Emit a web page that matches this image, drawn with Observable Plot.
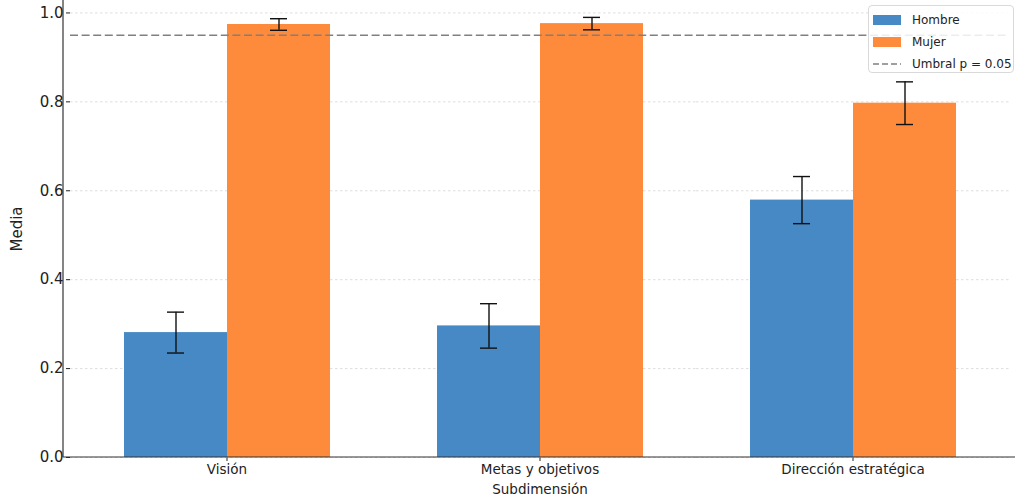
<!DOCTYPE html>
<html>
<head>
<meta charset="utf-8">
<script src="https://cdn.jsdelivr.net/npm/d3@7"></script>
<script src="https://cdn.jsdelivr.net/npm/@observablehq/plot@0.6"></script>
<style>
  html, body { margin: 0; padding: 0; background: #fff; }
  #wrap { position: relative; width: 1024px; height: 503px; font-family: "DejaVu Sans", sans-serif; }
  #legend { position: absolute; left: 868px; top: 5px; width: 146px; height: 68px; background: rgba(255,255,255,0.85);
            border: 1px solid #d9d9d9; border-radius: 4px; box-sizing: border-box; font-size: 12px; color: #222; }
  .item { position: absolute; left: 4px; height: 16px; display: flex; align-items: center; white-space: nowrap; }
  .sw { width: 28px; height: 10px; margin-right: 11px; }
  .dash { width: 28px; height: 4px; margin-right: 11px; }
  svg g[aria-label="y-axis tick label"] text, svg g[aria-label="y-axis tick label"] { font-size: 15px; }
  svg g[aria-label="y-axis label"] text, svg g[aria-label="y-axis label"] { font-size: 15px; }
</style>
</head>
<body>
<div id="wrap"></div>
<script>
const categories = ["Visión", "Metas y objetivos", "Dirección estratégica"];
const series = ["Hombre", "Mujer"];
const hombre = [0.281, 0.296, 0.579];
const mujer = [0.974, 0.976, 0.797];
const hombreErr = [0.046, 0.050, 0.053];
const mujerErr = [0.013, 0.014, 0.048];
const threshold = 0.95;
const thresholdLabel = "Umbral p = 0.05";
const yTicks = [0, 0.2, 0.4, 0.6, 0.8, 1.0];
const colors = ["#4689c5", "#fd8b3b"];

const data = [];
categories.forEach((c, i) => {
  data.push({cat: c, sex: series[0], v: hombre[i], e: hombreErr[i]});
  data.push({cat: c, sex: series[1], v: mujer[i], e: mujerErr[i]});
});

const W = 1024, H = 503, mL = 63, mR = 9, mT = 0, mB = 46;

const plot = Plot.plot({
  width: W, height: H,
  marginLeft: mL, marginRight: mR, marginTop: mT, marginBottom: mB,
  style: {fontFamily: "DejaVu Sans, sans-serif", fontSize: "13.5px", color: "#222", background: "#fff"},
  fx: {domain: categories, paddingInner: 0, paddingOuter: 0.02, axis: "bottom", tickSize: 4, tickPadding: 3,
       label: "Subdimensión", labelAnchor: "center", labelOffset: 36},
  x: {domain: series, paddingInner: 0, paddingOuter: 0.51, axis: null},
  y: {domain: [0, 1.028], ticks: yTicks, tickFormat: d3.format(".1f"), tickSize: 4, tickPadding: 3,
      label: "Media", labelAnchor: "center", labelOffset: 59, labelArrow: "none"},
  color: {domain: series, range: colors},
  marks: [
    Plot.ruleY(yTicks, {y: d => d, stroke: "#d6d6d6", strokeDasharray: "2.5,2.5", strokeWidth: 0.8}),
    Plot.barY(data, {fx: "cat", x: "sex", y: "v", fill: "sex"}),
    Plot.ruleY([threshold], {stroke: "#808080", strokeWidth: 1.5, strokeDasharray: "8,3.6"}),
    Plot.ruleX(data, {fx: "cat", x: "sex", y1: d => d.v - d.e, y2: d => d.v + d.e, stroke: "#111", strokeWidth: 1.4}),
    Plot.tickY(data, {fx: "cat", x: "sex", y: d => d.v + d.e, stroke: "#111", strokeWidth: 1.4, insetLeft: 43, insetRight: 43}),
    Plot.tickY(data, {fx: "cat", x: "sex", y: d => d.v - d.e, stroke: "#111", strokeWidth: 1.4, insetLeft: 43, insetRight: 43})
  ]
});

const wrap = document.getElementById("wrap");
wrap.appendChild(plot);

// axis spines (left and bottom)
const svg = d3.select(plot.tagName.toLowerCase() === "svg" ? plot : plot.querySelector("svg"));
svg.append("line").attr("x1", mL).attr("x2", mL).attr("y1", mT).attr("y2", H - mB)
  .attr("stroke", "#333").attr("stroke-width", 1.2);
svg.append("line").attr("x1", mL).attr("x2", W - mR).attr("y1", H - mB).attr("y2", H - mB)
  .attr("stroke", "#333").attr("stroke-width", 1.2);

// legend
const lg = document.createElement("div");
lg.id = "legend";
series.forEach((s, i) => {
  const it = document.createElement("div");
  it.className = "item";
  it.style.top = (6 + i * 22) + "px";
  it.innerHTML = `<div class="sw" style="background:${colors[i]}"></div><span>${s}</span>`;
  lg.appendChild(it);
});
const it = document.createElement("div");
it.className = "item";
it.style.top = (6 + 2 * 22) + "px";
it.innerHTML = `<svg class="dash" width="28" height="4"><line x1="0" x2="28" y1="2" y2="2" stroke="#808080" stroke-width="1.5" stroke-dasharray="6,3"/></svg><span>${thresholdLabel}</span>`;
lg.appendChild(it);
wrap.appendChild(lg);
</script>
</body>
</html>
